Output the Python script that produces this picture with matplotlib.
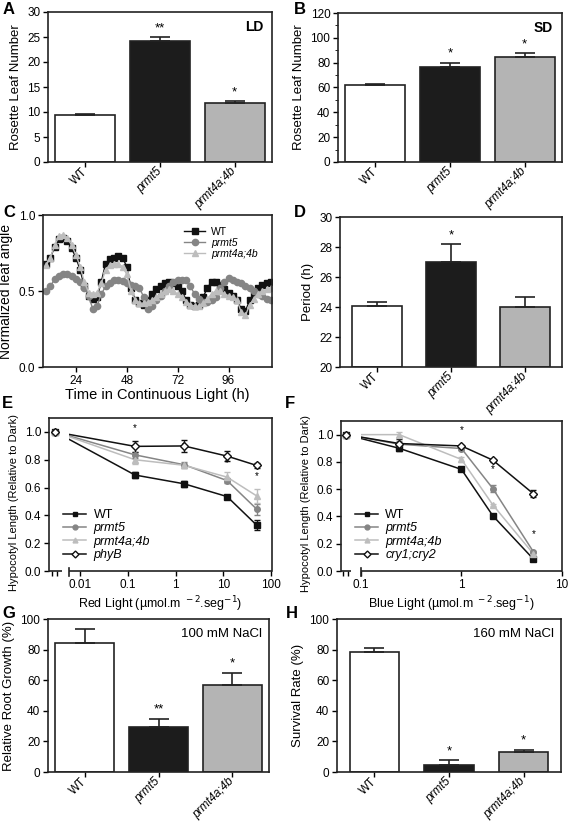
import numpy as np
import matplotlib.pyplot as plt
from matplotlib.lines import Line2D
from matplotlib.ticker import NullLocator, MultipleLocator
from matplotlib.transforms import Bbox, TransformedBbox, blended_transform_factory

plt.rcParams['font.family'] = ['Liberation Sans', 'DejaVu Sans']
plt.rcParams['font.size'] = 8.5
plt.rcParams['axes.linewidth'] = 1.2
plt.rcParams['axes.edgecolor'] = '#222222'
plt.rcParams['xtick.major.size'] = 3.5
plt.rcParams['ytick.major.size'] = 3.5
plt.rcParams['ytick.minor.size'] = 2
plt.rcParams['xtick.major.width'] = 1.0
plt.rcParams['ytick.major.width'] = 1.0
plt.rcParams['xtick.major.pad'] = 2
plt.rcParams['ytick.major.pad'] = 2

# ---------------- data ----------------
genotypes = ['WT', 'prmt5', 'prmt4a;4b']
bar_colors = ['white', '#1c1c1c', '#b4b4b4']

# A - long day flowering
ld_mean = [9.4, 24.2, 11.7]
ld_err = [0.2, 0.8, 0.4]
ld_stars = ['', '**', '*']

# B - short day flowering
sd_mean = [61.9, 76.8, 84.4]
sd_err = [1.3, 3.2, 3.2]
sd_stars = ['', '*', '*']

# C - leaf movement
time_h = [10, 12, 14, 16, 18, 20, 22, 24, 26, 28, 30, 32, 34, 36, 38, 40, 42, 44,
          46, 48, 50, 52, 54, 56, 58, 60, 62, 64, 66, 68, 70, 72, 74, 76, 78, 80,
          82, 84, 86, 88, 90, 92, 94, 96, 98, 100, 102, 104, 106, 108, 110, 112, 114, 116]
angle_wt = [0.68, 0.72, 0.79, 0.84, 0.85, 0.83, 0.78, 0.72, 0.64, 0.53, 0.47, 0.45,
            0.46, 0.56, 0.68, 0.71, 0.72, 0.73, 0.72, 0.66, 0.52, 0.44, 0.42, 0.41,
            0.44, 0.48, 0.51, 0.53, 0.55, 0.56, 0.55, 0.53, 0.50, 0.44, 0.41, 0.40,
            0.41, 0.46, 0.52, 0.56, 0.56, 0.54, 0.51, 0.49, 0.47, 0.44, 0.38, 0.37,
            0.44, 0.49, 0.52, 0.54, 0.55, 0.56]
angle_prmt5 = [0.50, 0.53, 0.58, 0.60, 0.61, 0.61, 0.60, 0.58, 0.56, 0.52, 0.47, 0.38,
               0.40, 0.48, 0.53, 0.55, 0.57, 0.575, 0.565, 0.55, 0.54, 0.53, 0.52, 0.46,
               0.38, 0.40, 0.44, 0.47, 0.50, 0.53, 0.56, 0.575, 0.575, 0.57, 0.53, 0.48,
               0.45, 0.43, 0.43, 0.44, 0.46, 0.52, 0.56, 0.585, 0.575, 0.56, 0.55, 0.53,
               0.52, 0.50, 0.48, 0.47, 0.45, 0.44]
angle_prmt4 = [0.67, 0.72, 0.80, 0.86, 0.87, 0.85, 0.80, 0.74, 0.66, 0.56, 0.49, 0.48,
               0.49, 0.55, 0.64, 0.67, 0.68, 0.68, 0.66, 0.61, 0.50, 0.44, 0.42, 0.42,
               0.43, 0.44, 0.46, 0.48, 0.50, 0.51, 0.50, 0.48, 0.46, 0.43, 0.41, 0.40,
               0.40, 0.42, 0.45, 0.48, 0.50, 0.50, 0.48, 0.47, 0.46, 0.44, 0.36, 0.34,
               0.41, 0.45, 0.48, 0.50, 0.51, 0.52]

# D - period
period_mean = [24.05, 27.0, 24.0]
period_err = [0.3, 1.2, 0.7]
period_stars = ['', '*', '']

# E - red light
red_dark = 0.003
red_x = [0.14, 1.5, 12, 50]
red_wt = [0.69, 0.627, 0.535, 0.33]
red_wt_err = [0.02, 0.02, 0.01, 0.035]
red_prmt5 = [0.835, 0.764, 0.65, 0.445]
red_prmt5_err = [0.02, 0.02, 0.02, 0.04]
red_prmt4 = [0.80, 0.76, 0.675, 0.54]
red_prmt4_err = [0.03, 0.02, 0.035, 0.05]
red_phyb = [0.896, 0.899, 0.826, 0.759]
red_phyb_err = [0.04, 0.04, 0.035, 0.02]
red_star_y = [0.99, 0.86, 0.74, 0.65]

# F - blue light
blue_dark = 0.071
blue_x = [0.24, 1.0, 2.05, 5.2]
blue_wt = [0.90, 0.745, 0.405, 0.087]
blue_wt_err = [0.02, 0.01, 0.01, 0.01]
blue_prmt5 = [0.93, 0.898, 0.605, 0.14]
blue_prmt5_err = [0.02, 0.01, 0.025, 0.01]
blue_prmt4 = [1.0, 0.818, 0.485, 0.125]
blue_prmt4_err = [0.02, 0.015, 0.01, 0.01]
blue_cry = [0.935, 0.917, 0.813, 0.566]
blue_cry_err = [0.03, 0.01, 0.01, 0.025]
blue_star_x = [1.0, 2.05, 5.2]
blue_star_y = [1.0, 0.71, 0.235]

# G - root growth on NaCl
root_mean = [84.2, 29.5, 56.7]
root_err = [9.4, 5.3, 8.3]
root_stars = ['', '**', '*']

# H - survival on NaCl
surv_mean = [78.2, 4.4, 12.9]
surv_err = [2.8, 3.3, 1.7]
surv_stars = ['', '*', '*']

# ---------------- figure ----------------
W, H = 568, 822
fig = plt.figure(figsize=(W / 100, H / 100), dpi=100)


def add_ax(left, top, right, bottom):
    return fig.add_axes([left / W, 1 - bottom / H, (right - left) / W, (bottom - top) / H])


def panel_letter(x, y, s):
    fig.text(x / W, 1 - y / H, s, fontsize=12, fontweight='bold', va='top', ha='left')


def bar_panel(ax, means, errs, stars, ylim, ystep, ylabel, width=0.8, star_pad=0.02):
    x = np.arange(3)
    base = ylim[0]
    ax.bar(x, np.array(means) - base, bottom=base, width=width, color=bar_colors,
           edgecolor='#222222', linewidth=1.2, zorder=2)
    ax.errorbar(x, means, yerr=[np.zeros(3), errs], fmt='none', ecolor='#222222',
                elinewidth=1.2, capsize=7, capthick=1.2, zorder=3)
    rng = ylim[1] - ylim[0]
    for xi, m, e, s in zip(x, means, errs, stars):
        if s:
            ax.text(xi, m + e + star_pad * rng, s, ha='center', va='bottom', fontsize=9.5)
    ax.set_xlim(-0.5, 2.5)
    ax.set_ylim(*ylim)
    ax.yaxis.set_major_locator(MultipleLocator(ystep))
    ax.set_xticks(x)
    ax.set_xticklabels(genotypes, rotation=45, ha='right', va='center',
                       rotation_mode='anchor', fontsize=8.5)
    for t in ax.get_xticklabels()[1:]:
        t.set_style('italic')
    ax.tick_params(axis='x', pad=2)
    ax.set_ylabel(ylabel, fontsize=9.5)


# A
axA = add_ax(48, 12, 272, 162)
bar_panel(axA, ld_mean, ld_err, ld_stars, (0, 30), 5, 'Rosette Leaf Number')
axA.text(0.96, 0.9, 'LD', transform=axA.transAxes, ha='right', va='center',
         fontsize=10, fontweight='bold')
panel_letter(3, 2, 'A')

# B
axB = add_ax(338, 13, 562, 162)
bar_panel(axB, sd_mean, sd_err, sd_stars, (0, 120), 20, 'Rosette Leaf Number')
axB.yaxis.set_minor_locator(MultipleLocator(10))
axB.text(0.96, 0.9, 'SD', transform=axB.transAxes, ha='right', va='center',
         fontsize=10, fontweight='bold')
panel_letter(294, 2, 'B')

# C
axC = add_ax(43, 215, 272, 367)
axC.plot(time_h, angle_wt, '-s', color='#111111', ms=4, lw=1, label='WT')
axC.plot(time_h, angle_prmt5, '-o', color='#858585', ms=4.5, lw=1, label='prmt5')
axC.plot(time_h, angle_prmt4, '-^', color='#bdbdbd', ms=4.5, lw=1, label='prmt4a;4b')
axC.set_xlim(8.5, 116.5)
axC.set_ylim(0, 1.0)
axC.set_xticks([24, 48, 72, 96])
axC.set_yticks([0.0, 0.5, 1.0])
axC.set_xlabel('Time in Continuous Light (h)', fontsize=10.5, labelpad=1)
axC.set_ylabel('Normalized leaf angle', fontsize=10)
legC = axC.legend(loc='upper right', bbox_to_anchor=(0.97, 0.97), frameon=False,
                  fontsize=7.5, handlelength=2, labelspacing=0.1, borderpad=0.2,
                  handletextpad=0.6)
for t in legC.get_texts()[1:]:
    t.set_style('italic')
panel_letter(3, 205, 'C')

# D
axD = add_ax(340, 217, 562, 367)
bar_panel(axD, period_mean, period_err, period_stars, (20, 30), 2, 'Period (h)', width=0.67)
panel_letter(294, 205, 'D')


def light_panel(ax, dark_x, xs, series, seg_left, seg_gap, xlim, xticks, xticklabels,
                dark_ticks, xlabel, legend_labels):
    ax.set_xscale('log')
    ax.set_xlim(*xlim)
    ax.set_ylim(0, 1.1)
    ax.set_yticks([0.0, 0.2, 0.4, 0.6, 0.8, 1.0])
    ax.xaxis.set_minor_locator(NullLocator())
    ax.set_xticks(dark_ticks + xticks)
    ax.set_xticklabels([''] * len(dark_ticks) + xticklabels)
    ax.spines['bottom'].set_visible(False)
    blend = blended_transform_factory(ax.transData, ax.transAxes)
    ax.plot([xlim[0], seg_left], [0, 0], color='#222222', lw=1.2, transform=blend,
            clip_on=False, solid_capstyle='butt')
    ax.plot([seg_gap, xlim[1]], [0, 0], color='#222222', lw=1.2, transform=blend,
            clip_on=False, solid_capstyle='butt')
    ax.plot([seg_gap, seg_gap], [-0.03, 0.02], color='#222222', lw=1.2, transform=blend,
            clip_on=False)
    clip = TransformedBbox(Bbox([[seg_gap, 0], [xlim[1], 1]]), blend)
    handles = []
    for (ys, errs, marker, color, mfc, ms), lab in zip(series, legend_labels):
        ln, = ax.plot([dark_x] + xs, [1.0] + ys, '-', color=color, lw=1.1, zorder=2)
        ln.set_clip_box(clip)
        ax.errorbar(xs, ys, yerr=errs, fmt=marker, color=color, mfc=mfc, mec=color,
                    ms=ms, elinewidth=1, capsize=2.5, capthick=1, zorder=3)
        ax.errorbar([dark_x], [1.0], yerr=[0.015], fmt=marker, color=color, mfc=mfc,
                    mec=color, ms=ms, elinewidth=1, capsize=2.5, capthick=1, zorder=3)
        handles.append(Line2D([], [], color=color, marker=marker, mfc=mfc, mec=color,
                              ms=ms - 0.5, lw=1.1))
    leg = ax.legend(handles, legend_labels, loc='lower left', bbox_to_anchor=(0.02, 0.0),
                    frameon=False, fontsize=9, handlelength=1.8, labelspacing=0.1,
                    handletextpad=0.6, borderpad=0.3)
    for t in leg.get_texts()[1:]:
        t.set_style('italic')
    ax.set_xlabel(xlabel, fontsize=9, labelpad=3)
    ax.set_ylabel('Hypocotyl Length (Relative to Dark)', fontsize=8, y=0.45)


# E
axE = add_ax(49, 418, 272, 571)
red_series = [
    (red_wt, red_wt_err, 's', '#111111', '#111111', 4),
    (red_prmt5, red_prmt5_err, 'o', '#858585', '#858585', 4),
    (red_prmt4, red_prmt4_err, '^', '#bdbdbd', '#bdbdbd', 4),
    (red_phyb, red_phyb_err, 'D', '#111111', 'white', 4),
]
light_panel(axE, red_dark, red_x, red_series, 0.0042, 0.0059, (0.0022, 105),
            [0.01, 0.1, 1, 10, 100], ['0.01', '0.1', '1', '10', '100'],
            [0.0026, 0.0033], 'Red Light (µmol.m$^{\\ -2}$.seg$^{-1}$)',
            ['WT', 'prmt5', 'prmt4a;4b', 'phyB'])
for xi, yi in zip(red_x, red_star_y):
    axE.text(xi, yi, '*', ha='center', va='bottom', fontsize=7)
panel_letter(2, 396, 'E')

# F
axF = add_ax(341, 421, 562, 571)
blue_series = [
    (blue_wt, blue_wt_err, 's', '#111111', '#111111', 4),
    (blue_prmt5, blue_prmt5_err, 'o', '#858585', '#858585', 4),
    (blue_prmt4, blue_prmt4_err, '^', '#bdbdbd', '#bdbdbd', 4),
    (blue_cry, blue_cry_err, 'D', '#111111', 'white', 4),
]
light_panel(axF, blue_dark, blue_x, blue_series, 0.0796, 0.1, (0.0633, 10),
            [0.1, 1, 10], ['0.1', '1', '10'],
            [0.067, 0.074], 'Blue Light (µmol.m$^{\\ -2}$.seg$^{-1}$)',
            ['WT', 'prmt5', 'prmt4a;4b', 'cry1;cry2'])
for xi, yi in zip(blue_star_x, blue_star_y):
    axF.text(xi, yi, '*', ha='center', va='bottom', fontsize=7)
panel_letter(285, 396, 'F')

# G
axG = add_ax(48, 619, 269, 772)
bar_panel(axG, root_mean, root_err, root_stars, (0, 100), 20, 'Relative Root Growth (%)')
axG.text(0.97, 0.9, '100 mM NaCl', transform=axG.transAxes, ha='right', va='center',
         fontsize=9.5)
panel_letter(2, 606, 'G')

# H
axH = add_ax(337, 619, 561, 772)
bar_panel(axH, surv_mean, surv_err, surv_stars, (0, 100), 20, 'Survival Rate (%)', width=0.66)
axH.text(0.97, 0.9, '160 mM NaCl', transform=axH.transAxes, ha='right', va='center',
         fontsize=9.5)
panel_letter(286, 606, 'H')

fig.savefig('out.png', dpi=100)
